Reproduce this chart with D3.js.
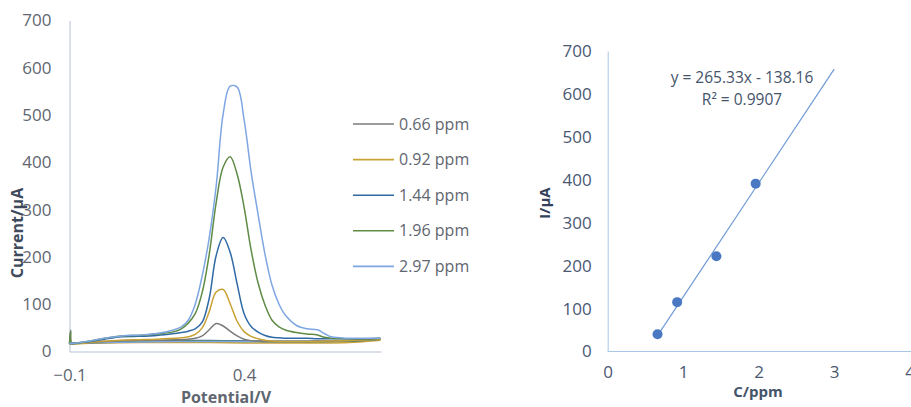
<!DOCTYPE html>
<html>
<head>
<script src="https://d3js.org/d3.v7.min.js"></script>
<style>
  body { margin: 0; background: #fff; }
  text { font-family: "Open Sans", sans-serif; }
</style>
</head>
<body>
<svg id="chart" width="911" height="407"></svg>
<script>
// ---- voltammograms (left) ----
var potentials = [-0.1, -0.097, -0.094, -0.08, -0.05, 0.0, 0.05, 0.1, 0.15, 0.2, 0.22, 0.24, 0.26, 0.28, 0.30, 0.32, 0.34, 0.36, 0.38, 0.40, 0.42, 0.44, 0.46, 0.48, 0.50, 0.52, 0.55, 0.58, 0.61, 0.63, 0.65, 0.70, 0.75, 0.79];
var conc = ["0.66 ppm", "0.92 ppm", "1.44 ppm", "1.96 ppm", "2.97 ppm"];
var colors = ["#7b7b7b", "#c9a235", "#2f6aa5", "#5f8b45", "#7ea6e2"];

var cur066 = [16, 45, 17, 17, 18, 21, 23, 24, 24, 25, 25, 26, 28, 33, 46, 59, 54, 43, 33, 26, 23, 22, 21, 21, 21, 21, 21, 21, 22, 22, 22, 23, 25, 27];
var cur092 = [16, 17, 17, 17, 18, 22, 24, 25, 26, 28, 29, 31, 36, 50, 84, 126, 131, 101, 64, 42, 32, 27, 24, 22, 21, 21, 21, 21, 21, 22, 22, 23, 25, 26];
var cur144 = [16, 18, 17, 18, 20, 26, 31, 32, 34, 38, 40, 43, 48, 62, 112, 203, 241, 210, 143, 80, 53, 41, 34, 30, 29, 28, 28, 28, 27, 27, 27, 27, 27, 28];
var cur196 = [16, 42, 17, 18, 21, 28, 33, 34, 37, 42, 48, 60, 80, 125, 205, 315, 390, 412, 375, 305, 215, 145, 98, 66, 52, 45, 40, 37, 35, 30, 28, 27, 27, 28];
var cur297 = [16, 18, 17, 18, 21, 28, 33, 35, 38, 46, 52, 66, 100, 160, 240, 350, 502, 561, 559, 490, 380, 290, 205, 140, 100, 75, 55, 48, 46, 38, 31, 28, 28, 28];

// return sweep (flat baseline)
var backPot = [-0.1, 0.0, 0.1, 0.2, 0.3, 0.4, 0.5, 0.6, 0.7, 0.79];
var back066 = [17, 20, 21, 22, 22, 22, 21, 21, 22, 25];
var back092 = [16, 18, 19, 19, 19, 18, 18, 18, 19, 24];
var back144 = [17, 20, 22, 23, 23, 22, 21, 21, 22, 26];
var back196 = [17, 19, 21, 22, 22, 21, 21, 21, 22, 26];
var back297 = [17, 19, 20, 21, 21, 21, 21, 22, 23, 27];

var leftXTicks = [-0.1, 0.4];
var leftYTicks = [0, 100, 200, 300, 400, 500, 600, 700];

// ---- calibration (right) ----
var calC = [0.66, 0.92, 1.44, 1.96];
var calI = [40, 115, 222, 391];
var slope = 265.33, intercept = -138.16, r2 = 0.9907;
var fitRange = [0.66, 3];
var rightXTicks = [0, 1, 2, 3, 4];
var rightYTicks = [0, 100, 200, 300, 400, 500, 600, 700];

var svg = d3.select("#chart");

// left chart
var fwd = [cur066, cur092, cur144, cur196, cur297];
var bwd = [back066, back092, back144, back196, back297];

var x1 = d3.scaleLinear().domain([-0.1, 0.792]).range([69.5, 381]);
var y1 = d3.scaleLinear().domain([0, 700]).range([351.5, 20.5]);

var gL = svg.append("g");

gL.append("g")
  .attr("transform", "translate(69.5,0)")
  .call(d3.axisLeft(y1).tickValues(leftYTicks).tickSize(0).tickPadding(18).tickSizeOuter(0))
  .call(g => g.select(".domain").attr("stroke", "#b7c3d6"))
  .call(g => g.selectAll("text").attr("fill", "#5f6670").style("font-size", "17px").style("font-family", "Open Sans"));

gL.append("g")
  .attr("transform", "translate(0,351.5)")
  .call(d3.axisBottom(x1).tickValues(leftXTicks).tickSize(0).tickPadding(17).tickSizeOuter(0).tickFormat(d3.format(".1f")))
  .call(g => g.select(".domain").attr("stroke", "#b7c3d6"))
  .call(g => g.selectAll("text").attr("fill", "#5f6670").style("font-size", "17px").style("font-family", "Open Sans"));

var line1 = d3.line().x(d => x1(d[0])).y(d => y1(d[1])).curve(d3.curveCatmullRom.alpha(0.5));

fwd.forEach(function(s, i) {
  gL.append("path")
    .datum(backPot.map((p, j) => [p, bwd[i][j]]))
    .attr("fill", "none").attr("stroke", colors[i]).attr("stroke-width", 1.5)
    .attr("d", line1);
});
fwd.forEach(function(s, i) {
  gL.append("path")
    .datum(potentials.map((p, j) => [p, s[j]]))
    .attr("fill", "none").attr("stroke", colors[i]).attr("stroke-width", 1.5)
    .attr("d", line1);
});

var leg = gL.selectAll(".leg").data(conc).enter().append("g")
  .attr("transform", (d, i) => "translate(353," + (124 + i * 35.6) + ")");
leg.append("line").attr("x1", 0).attr("x2", 41).attr("stroke", (d, i) => colors[i]).attr("stroke-width", 1.6);
leg.append("text").attr("x", 46).attr("dy", "0.35em").attr("fill", "#5f6670")
  .style("font-size", "16px").text(d => d);

gL.append("text").attr("x", 226).attr("y", 397).attr("dy", "0.35em").attr("text-anchor", "middle")
  .attr("fill", "#5f6670").style("font-size", "16px").style("font-weight", "bold").text("Potential/V");
gL.append("text").attr("transform", "translate(17,233) rotate(-90)").attr("dy", "0.35em").attr("text-anchor", "middle")
  .attr("fill", "#3e4a5c").style("font-size", "16px").style("font-weight", "bold").text("Current/μA");

// right chart
var x2 = d3.scaleLinear().domain([0, 4]).range([607.7, 909.7]);
var y2 = d3.scaleLinear().domain([0, 700]).range([351.5, 51]);

var gR = svg.append("g");

gR.append("g")
  .attr("transform", "translate(607.7,0)")
  .call(d3.axisLeft(y2).tickValues(rightYTicks).tickSize(0).tickPadding(16).tickSizeOuter(0))
  .call(g => g.select(".domain").attr("stroke", "#a9c6e8"))
  .call(g => g.selectAll("text").attr("fill", "#4a5872").style("font-size", "17px").style("font-family", "Open Sans"));

gR.append("g")
  .attr("transform", "translate(0,351.5)")
  .call(d3.axisBottom(x2).tickValues(rightXTicks).tickSize(0).tickPadding(14).tickSizeOuter(0).tickFormat(d3.format("d")))
  .call(g => g.select(".domain").attr("stroke", "#a9c6e8").attr("d", "M607.7,0H911"))
  .call(g => g.selectAll("text").attr("fill", "#4a5872").style("font-size", "17px").style("font-family", "Open Sans"));

gR.append("line")
  .attr("x1", x2(fitRange[0])).attr("y1", y2(slope * fitRange[0] + intercept))
  .attr("x2", x2(fitRange[1])).attr("y2", y2(slope * fitRange[1] + intercept))
  .attr("stroke", "#6f9ad6").attr("stroke-width", 1.2);

gR.selectAll("circle").data(calC).enter().append("circle")
  .attr("cx", d => x2(d)).attr("cy", (d, i) => y2(calI[i])).attr("r", 5)
  .attr("fill", "#4a78c2");

gR.append("text").attr("x", 742).attr("y", 78).attr("dy", "0.35em").attr("text-anchor", "middle")
  .attr("fill", "#44546a").style("font-size", "15.5px")
  .text("y = " + slope + "x - " + Math.abs(intercept));
gR.append("text").attr("x", 742).attr("y", 100).attr("dy", "0.35em").attr("text-anchor", "middle")
  .attr("fill", "#44546a").style("font-size", "15.5px").text("R² = " + r2);

gR.append("text").attr("x", 758).attr("y", 392).attr("dy", "0.35em").attr("text-anchor", "middle")
  .attr("fill", "#44546a").style("font-size", "15px").style("font-weight", "bold").text("C/ppm");
gR.append("text").attr("transform", "translate(545,203) rotate(-90)").attr("dy", "0.35em").attr("text-anchor", "middle")
  .attr("fill", "#33415a").style("font-size", "15px").style("font-weight", "bold").text("I/μA");
</script>
</body>
</html>
